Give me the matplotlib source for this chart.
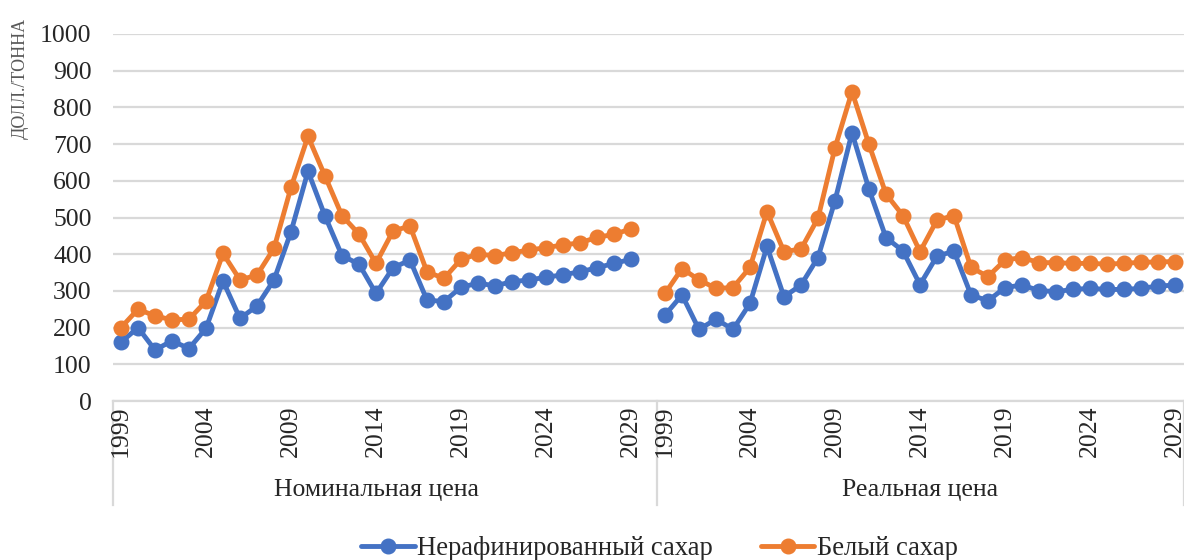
import numpy as np
import matplotlib
matplotlib.use("Agg")
import matplotlib.pyplot as plt
import matplotlib.transforms as mtransforms

plt.rcParams['font.family'] = ['Liberation Serif', 'DejaVu Serif']

years = list(range(1999, 2030))
groups = ['Номинальная цена', 'Реальная цена']
series_names = ['Нерафинированный сахар', 'Белый сахар']

# nominal prices, USD/t
nom_raw = [160, 200, 139, 164, 143, 198, 327, 225, 259, 330, 461, 626, 504, 396, 373,
           293, 363, 384, 275, 271, 310, 321, 314, 325, 330, 337, 344, 352, 363, 375, 386]
nom_white = [200, 250, 232, 221, 223, 272, 402, 330, 343, 416, 582, 721, 613, 505, 455,
             375, 463, 477, 352, 334, 386, 400, 396, 404, 411, 418, 425, 431, 446, 454, 469]
# real prices, USD/t
real_raw = [234, 289, 195, 223, 195, 266, 421, 284, 316, 391, 546, 731, 577, 445, 409,
            317, 395, 408, 289, 273, 309, 316, 301, 298, 304, 307, 304, 304, 307, 313, 316]
real_white = [293, 361, 330, 307, 309, 364, 516, 407, 414, 498, 690, 843, 699, 564, 505,
              407, 493, 505, 364, 339, 384, 391, 377, 377, 375, 375, 373, 375, 378, 379, 380]

blue = '#4472C4'
orange = '#ED7D31'
grid_c = '#D9D9D9'
txt_c = '#262626'
fs = 18.5

fig = plt.figure(figsize=(11.84, 5.6), dpi=100)
ax = fig.add_axes([112.5 / 1184, 159 / 560, (1183.5 - 112.5) / 1184, 367 / 560])

n = len(years)
x_nom = np.arange(n)
x_real = np.arange(n) + n + 1

style = dict(lw=3.5, marker='o', ms=10.5, solid_capstyle='round', clip_on=False)
h1, = ax.plot(x_nom, nom_raw, color=blue, **style)
h2, = ax.plot(x_nom, nom_white, color=orange, **style)
ax.plot(x_real, real_raw, color=blue, **style)
ax.plot(x_real, real_white, color=orange, **style)

ax.set_xlim(-0.5, 2 * n + 0.5)
ax.set_ylim(0, 1000)
ax.set_yticks(np.arange(0, 1001, 100))
ax.yaxis.grid(True, color=grid_c, lw=1.6)
ax.set_axisbelow(True)
for s in ['top', 'right', 'left']:
    ax.spines[s].set_visible(False)
ax.spines['bottom'].set_color(grid_c)
ax.spines['bottom'].set_linewidth(1.6)
ax.set_xticks([])
ax.tick_params(axis='y', length=0, pad=15, labelsize=fs, labelcolor=txt_c)

trans = mtransforms.blended_transform_factory(ax.transData, ax.transAxes)
for xs in [-0.5, n + 0.5, 2 * n + 0.5]:
    ax.plot([xs, xs], [0, -0.283], color=grid_c, lw=1.6, transform=trans, clip_on=False)

for offset in [0, n + 1]:
    for i, yr in enumerate(years):
        if i % 5 == 0:
            ax.text(offset + i, -0.012, str(yr), rotation=90, ha='center', va='top',
                    fontsize=fs, color=txt_c, transform=trans)
for g, xc in zip(groups, [(n - 1) / 2, n + 1 + (n - 1) / 2]):
    ax.text(xc, -0.243, g, ha='center', va='center', fontsize=fs, color=txt_c, transform=trans)

fig.text(20 / 1184, 1 - 78 / 560, 'ДОЛЛ./ТОННА', rotation=90, ha='center', va='center',
         fontsize=13, color='#595959')

fig.legend([h1, h2], series_names, loc='center', bbox_to_anchor=(0.557, 0.02),
           ncol=2, frameon=False, fontsize=19.2, handlelength=2.0, handletextpad=0.1,
           columnspacing=1.8, labelcolor=txt_c)

fig.savefig('out.png', dpi=100)
